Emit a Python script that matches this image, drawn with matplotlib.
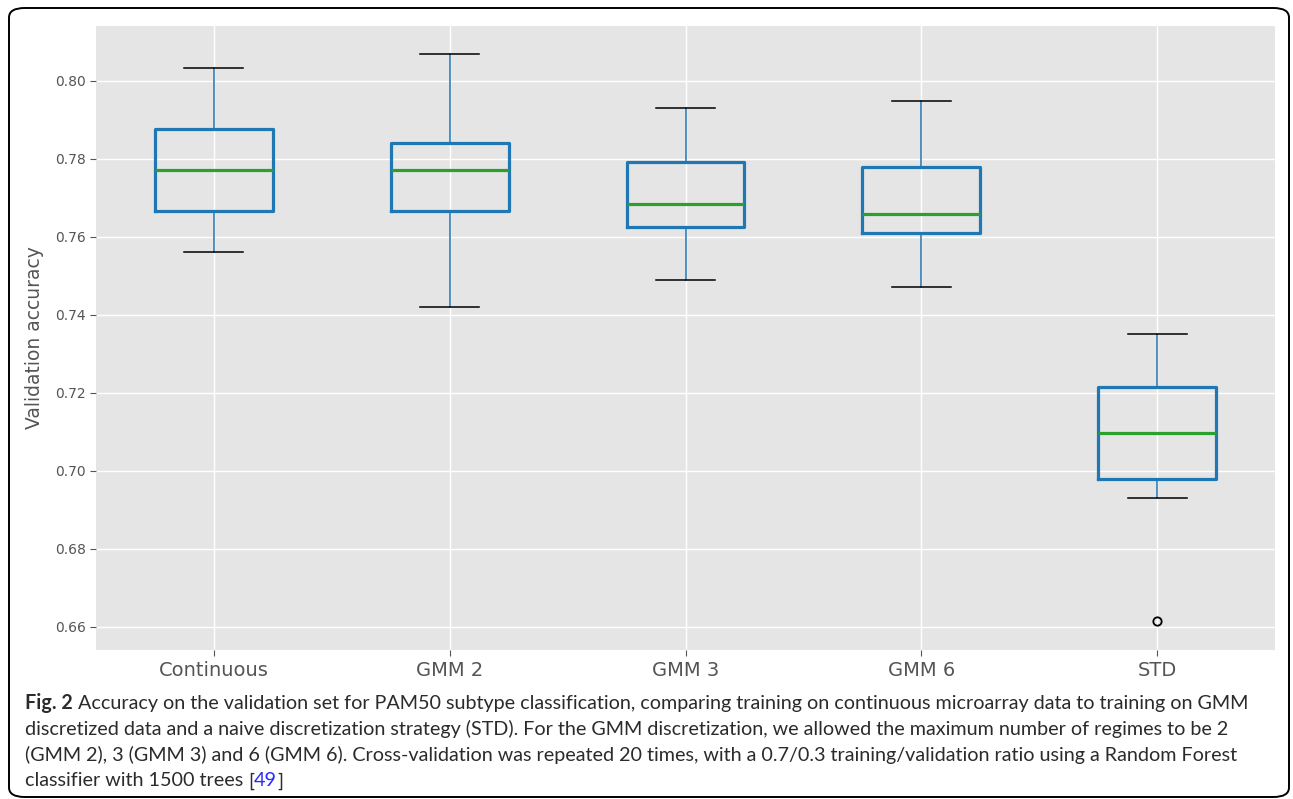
import matplotlib
matplotlib.use("Agg")
import matplotlib.pyplot as plt
from matplotlib.patches import FancyBboxPatch

plt.style.use("ggplot")

# Box statistics for each strategy (validation accuracy)
categories = ["Continuous", "GMM 2", "GMM 3", "GMM 6", "STD"]
whisker_low = [0.7562, 0.7421, 0.7490, 0.7472, 0.6931]
q1 = [0.7667, 0.7667, 0.7626, 0.7610, 0.6979]
median = [0.7772, 0.7772, 0.7685, 0.7659, 0.7097]
q3 = [0.7877, 0.7841, 0.7792, 0.7779, 0.7215]
whisker_high = [0.8033, 0.8069, 0.7931, 0.7949, 0.7351]
outliers = [[], [], [], [], [0.6615]]
yticks = [0.66, 0.68, 0.70, 0.72, 0.74, 0.76, 0.78, 0.80]

caption_lines = [
    "Accuracy on the validation set for PAM50 subtype classification, comparing training on continuous microarray data to training on GMM",
    "discretized data and a naive discretization strategy (STD). For the GMM discretization, we allowed the maximum number of regimes to be 2",
    "(GMM 2), 3 (GMM 3) and 6 (GMM 6). Cross-validation was repeated 20 times, with a 0.7/0.3 training/validation ratio using a Random Forest",
    "classifier with 1500 trees ",
]

W, H = 1293, 799
fig = plt.figure(figsize=(W / 100, H / 100), dpi=100)
fig.patch.set_facecolor("white")

ax = fig.add_axes([96 / W, 1 - 650 / H, (1275 - 96) / W, (650 - 26) / H])
ax.set_facecolor("#E5E5E5")

stats = []
for i, name in enumerate(categories):
    stats.append(dict(label=name, whislo=whisker_low[i], q1=q1[i], med=median[i],
                      q3=q3[i], whishi=whisker_high[i], fliers=outliers[i]))

ax.bxp(stats, positions=range(1, len(categories) + 1), widths=0.5,
       boxprops=dict(color="#1f77b4", linewidth=2.3),
       whiskerprops=dict(color="#1f77b4", linewidth=1.1),
       capprops=dict(color="black", linewidth=1.1),
       medianprops=dict(color="#2ca02c", linewidth=2.3),
       flierprops=dict(marker="o", markerfacecolor="none", markeredgecolor="black",
                       markersize=6, markeredgewidth=1.3))

ax.set_xlim(0.5, len(categories) + 0.5)
ax.set_ylim(0.6541, 0.8141)
ax.set_yticks(yticks)
ax.set_yticklabels([f"{v:.2f}" for v in yticks])
ax.grid(True, color="white", linewidth=1.0)
ax.set_axisbelow(True)
for s in ax.spines.values():
    s.set_visible(False)
ax.tick_params(axis="y", labelsize=10, colors="#555555", length=4, width=0.8)
ax.tick_params(axis="x", labelsize=14, colors="#555555", length=4, width=0.8, pad=4)
ax.set_ylabel("Validation accuracy", fontsize=13.5, color="#555555", labelpad=8)

# Rounded frame around the figure
frame = FancyBboxPatch((9 / W, 2 / H), (1289 - 9) / W, (791 - 2) / H,
                       boxstyle="round,pad=0,rounding_size=0.012",
                       transform=fig.transFigure, fill=False,
                       edgecolor="black", linewidth=1.4, zorder=10)
fig.patches.append(frame)

# Caption, sized so the first line spans the caption width
cap_font = "Lato"
cap_color = "#2b2b2b"
line_y = [703, 729, 755, 781]
x0 = 25 / W
line_end = 1248

fig.canvas.draw()
renderer = fig.canvas.get_renderer()

probe_b = fig.text(0, 0, "Fig. 2", fontsize=10, family=cap_font, weight="bold")
probe_r = fig.text(0, 0, caption_lines[0], fontsize=10, family=cap_font)
w10 = (probe_b.get_window_extent(renderer).width
       + probe_r.get_window_extent(renderer).width)
probe_b.remove()
probe_r.remove()
cap_size = 10 * (line_end - 25 - 5) / w10

bold = fig.text(x0, 1 - line_y[0] / H, "Fig. 2", fontsize=cap_size, family=cap_font,
                weight="bold", color=cap_color, va="center", ha="left")
bb = bold.get_window_extent(renderer)
fig.text(bb.x1 / W + 5 / W, 1 - line_y[0] / H, caption_lines[0], fontsize=cap_size,
         family=cap_font, color=cap_color, va="center", ha="left")
for k in (1, 2):
    fig.text(x0, 1 - line_y[k] / H, caption_lines[k], fontsize=cap_size,
             family=cap_font, color=cap_color, va="center", ha="left")
last = fig.text(x0, 1 - line_y[3] / H, caption_lines[3], fontsize=cap_size,
                family=cap_font, color=cap_color, va="center", ha="left")
lb = last.get_window_extent(renderer)
t1 = fig.text(lb.x1 / W, 1 - line_y[3] / H, "[", fontsize=cap_size, family=cap_font,
              color=cap_color, va="center", ha="left")
b1 = t1.get_window_extent(renderer)
t2 = fig.text(b1.x1 / W, 1 - line_y[3] / H, "49", fontsize=cap_size, family=cap_font,
              color="#2a2aff", va="center", ha="left")
b2 = t2.get_window_extent(renderer)
fig.text(b2.x1 / W, 1 - line_y[3] / H, "]", fontsize=cap_size, family=cap_font,
         color=cap_color, va="center", ha="left")

fig.savefig("out.png", dpi=100)
